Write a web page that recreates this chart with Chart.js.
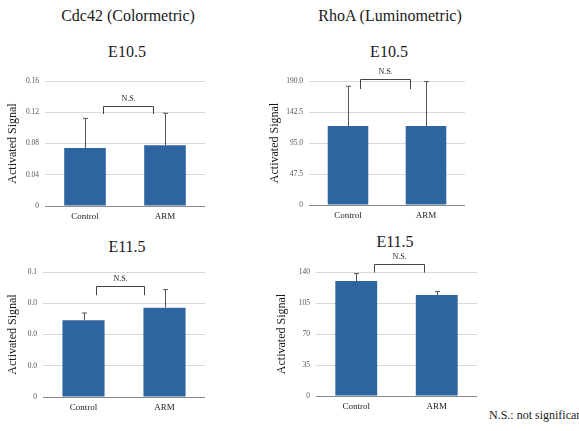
<!DOCTYPE html>
<html>
<head>
<meta charset="utf-8">
<script src="https://cdn.jsdelivr.net/npm/chart.js@4.4.1/dist/chart.umd.min.js"></script>
<style>
  html, body { margin: 0; padding: 0; background: #fff; }
  body { width: 579px; height: 431px; position: relative; overflow: hidden;
         font-family: "Liberation Serif", "Times New Roman", serif; color: #1a1a1a; }
  .txt { position: absolute; white-space: nowrap; transform: translate(-50%, -50%); }
  .head { font-size: 16px; }
  .stage { font-size: 16px; }
  .note { position: absolute; left: 489px; top: 408px; font-size: 12px; white-space: nowrap; }
  canvas { position: absolute; }
</style>
</head>
<body>
<div class="txt head" style="left:128px; top:16px;">Cdc42 (Colormetric)</div>
<div class="txt head" style="left:390px; top:16px;">RhoA (Luminometric)</div>
<div class="txt stage" style="left:127px; top:52px;">E10.5</div>
<div class="txt stage" style="left:389px; top:52px;">E10.5</div>
<div class="txt stage" style="left:127px; top:247px;">E11.5</div>
<div class="txt stage" style="left:395px; top:242px;">E11.5</div>
<div class="note">N.S.: not significant</div>

<canvas id="cdc42a"></canvas>
<canvas id="rhoaa"></canvas>
<canvas id="cdc42b"></canvas>
<canvas id="rhoab"></canvas>

<script>
const categories = ['Control', 'ARM'];

// Cdc42 E10.5
const cdc42E105 = [0.0742, 0.0777];
const cdc42E105Err = [0.038, 0.041];
const cdc42E105Ticks = [0, 0.04, 0.08, 0.12, 0.16];
const cdc42E105Labels = ['0', '0.04', '0.08', '0.12', '0.16'];

// RhoA E10.5
const rhoaE105 = [121, 121];
const rhoaE105Err = [61, 68];
const rhoaE105Ticks = [0, 47.5, 95, 142.5, 190];
const rhoaE105Labels = ['0', '47.5', '95.0', '142.5', '190.0'];

// Cdc42 E11.5
const cdc42E115 = [0.0614, 0.0715];
const cdc42E115Err = [0.0058, 0.0144];
const cdc42E115Ticks = [0, 0.025, 0.05, 0.075, 0.1];
const cdc42E115Labels = ['0', '0.0', '0.0', '0.0', '0.1'];

// RhoA E11.5
const rhoaE115 = [129.8, 114.0];
const rhoaE115Err = [8.4, 3.9];
const rhoaE115Ticks = [0, 35, 70, 105, 140];
const rhoaE115Labels = ['0', '35', '70', '105', '140'];

Chart.defaults.font.family = '"Liberation Serif", "Times New Roman", serif';
Chart.defaults.color = '#333';

const BAR_COLOR = '#2e64a0';
const PAD_TOP = 30;
const PAD_R = 6;
const X_H = 24;

// error bars + N.S. bracket
const marks = {
  id: 'marks',
  afterDatasetsDraw(chart, args, opts) {
    const { ctx, scales: { x, y } } = chart;
    const meta = chart.getDatasetMeta(0);
    const vals = chart.data.datasets[0].data;
    ctx.save();
    ctx.strokeStyle = '#555';
    ctx.lineWidth = 1;
    opts.err.forEach((e, i) => {
      const bx = Math.round(meta.data[i].x) + 0.5;
      const top = y.getPixelForValue(vals[i] + e);
      ctx.beginPath();
      ctx.moveTo(bx, y.getPixelForValue(vals[i]));
      ctx.lineTo(bx, top);
      ctx.moveTo(bx - 2.5, top);
      ctx.lineTo(bx + 2.5, top);
      ctx.stroke();
    });
    const b = opts.bracket;
    const x0 = Math.round(x.getPixelForValue(b.from)) + 0.5;
    const x1 = Math.round(x.getPixelForValue(b.to)) + 0.5;
    const yt = Math.round(y.getPixelForValue(b.top)) + 0.5;
    const yl = y.getPixelForValue(b.leg);
    ctx.strokeStyle = '#444';
    ctx.beginPath();
    ctx.moveTo(x0, yl);
    ctx.lineTo(x0, yt);
    ctx.lineTo(x1, yt);
    ctx.lineTo(x1, yl);
    ctx.stroke();
    ctx.fillStyle = '#222';
    ctx.font = '8px "Liberation Serif", serif';
    ctx.textAlign = 'center';
    ctx.textBaseline = 'middle';
    ctx.fillText('N.S.', (x0 + x1) / 2, yt - 8);
    ctx.restore();
  }
};

function makePanel(id, area, yw, titlePad, values, errors, ticks, labels, bracket) {
  const cv = document.getElementById(id);
  const w = area.r - area.l + yw + PAD_R;
  const h = area.b - area.t + PAD_TOP + X_H;
  cv.width = w;
  cv.height = h;
  cv.style.left = (area.l - yw) + 'px';
  cv.style.top = (area.t - PAD_TOP) + 'px';
  cv.style.width = w + 'px';
  cv.style.height = h + 'px';

  new Chart(cv.getContext('2d'), {
    type: 'bar',
    data: {
      labels: categories,
      datasets: [{
        data: values,
        backgroundColor: BAR_COLOR,
        borderWidth: 0,
        categoryPercentage: 1,
        barPercentage: 0.52
      }]
    },
    options: {
      responsive: false,
      animation: false,
      devicePixelRatio: 1,
      layout: { padding: { top: PAD_TOP, right: PAD_R, left: 0, bottom: 0 } },
      plugins: {
        legend: { display: false },
        tooltip: { enabled: false },
        marks: { err: errors, bracket: bracket }
      },
      scales: {
        x: {
          grid: { display: false, drawTicks: false },
          border: { display: false },
          ticks: { color: '#222', padding: 5, font: { size: 9 } },
          afterFit: s => { s.height = X_H; }
        },
        y: {
          min: ticks[0],
          max: ticks[ticks.length - 1],
          afterBuildTicks: s => { s.ticks = ticks.map(v => ({ value: v })); },
          grid: {
            drawTicks: false,
            color: c => (c.tick && c.tick.value === 0 ? '#8a8a8a' : '#d9d9d9'),
            lineWidth: 1
          },
          border: { display: false },
          ticks: {
            color: '#555',
            padding: 6,
            font: { size: 7.5 },
            callback: (v, i) => labels[i]
          },
          title: {
            display: true,
            text: 'Activated Signal',
            color: '#1a1a1a',
            font: { size: 12 },
            padding: { top: titlePad, bottom: 0 }
          },
          afterFit: s => { s.width = yw; }
        }
      }
    },
    plugins: [marks]
  });
}

makePanel('cdc42a', { l: 45, r: 205, t: 81, b: 206 }, 45, 6,
  cdc42E105, cdc42E105Err, cdc42E105Ticks, cdc42E105Labels,
  { from: 0.23, to: 0.85, top: 0.128, leg: 0.1178 });

makePanel('rhoaa', { l: 309, r: 465, t: 81, b: 205 }, 41, 0,
  rhoaE105, rhoaE105Err, rhoaE105Ticks, rhoaE105Labels,
  { from: 0.15, to: 0.8, top: 192.6, leg: 177.7 });

makePanel('cdc42b', { l: 43, r: 205, t: 272, b: 397 }, 43, 6,
  cdc42E115, cdc42E115Err, cdc42E115Ticks, cdc42E115Labels,
  { from: 0.15, to: 0.75, top: 0.0891, leg: 0.0814 });

makePanel('rhoab', { l: 316, r: 477, t: 272, b: 396 }, 41, 0,
  rhoaE115, rhoaE115Err, rhoaE115Ticks, rhoaE115Labels,
  { from: 0.22, to: 0.84, top: 149.5, leg: 139.3 });
</script>
</body>
</html>
